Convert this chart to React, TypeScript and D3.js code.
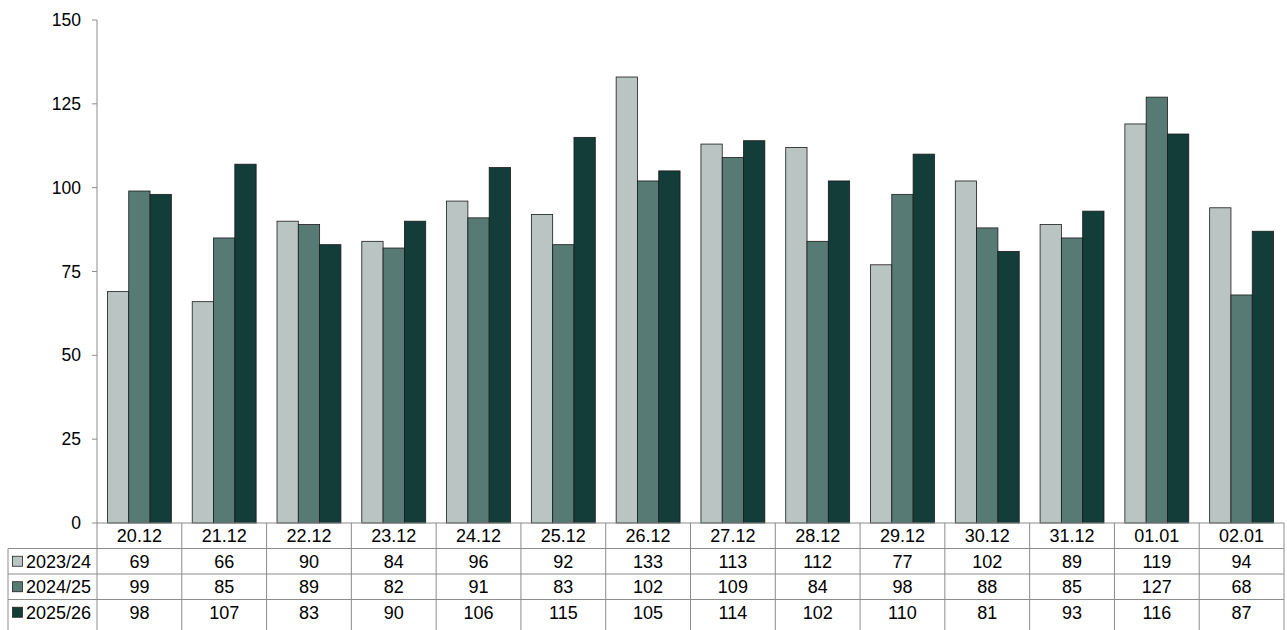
import React from "react";
import * as d3 from "d3";

const categories = ["20.12","21.12","22.12","23.12","24.12","25.12","26.12","27.12","28.12","29.12","30.12","31.12","01.01","02.01"];
const seriesNames = ["2023/24","2024/25","2025/26"];
const s2023 = [69,66,90,84,96,92,133,113,112,77,102,89,119,94];
const s2024 = [99,85,89,82,91,83,102,109,84,98,88,85,127,68];
const s2025 = [98,107,83,90,106,115,105,114,102,110,81,93,116,87];
const colors = ["#b9c4c3","#587a75","#133d38"];
const yTicks = [0,25,50,75,100,125,150];

export default function App() {
  const W = 1287, H = 630;
  const left = 97, right = 1284, top = 20, bottom = 523;
  const rowH = 25.5;
  const tableLeft = 8;
  const series = [s2023, s2024, s2025];
  const x = d3.scaleBand<string>().domain(categories).range([left, right]).paddingInner(0).paddingOuter(0);
  const xs = d3.scaleBand<number>().domain([0,1,2]).range([0, x.bandwidth()]).paddingInner(0).paddingOuter(0.49);
  const y = d3.scaleLinear().domain([0,150]).range([bottom, top]);
  const font = "'Liberation Sans', Arial, sans-serif";
  const grid = "#8c8c8c";
  const fs = 18;
  return (
    <svg width={W} height={H} style={{position:"absolute", left:0, top:0}} fontFamily={font}>
      {series.map((s, si) => s.map((v, i) => (
        <rect key={`${si}-${i}`} x={(x(categories[i]) as number) + (xs(si) as number)} y={y(v)} width={xs.bandwidth()} height={y(0)-y(v)} fill={colors[si]} stroke="#1a1a1a" strokeWidth={0.8} />
      )))}
      <line x1={left} x2={left} y1={top} y2={bottom} stroke={grid} strokeWidth={1}/>
      {yTicks.map(t => (
        <g key={t}>
          <line x1={left-5} x2={left} y1={y(t)} y2={y(t)} stroke={grid}/>
          <text x={left-16} y={y(t)} dy="0.35em" textAnchor="end" fontSize={17.5} fill="#000">{t}</text>
        </g>
      ))}
      {/* table */}
      <line x1={left} x2={right} y1={bottom} y2={bottom} stroke={grid}/>
      {[1,2,3].map(r => (
        <line key={r} x1={tableLeft} x2={right} y1={bottom + r*rowH} y2={bottom + r*rowH} stroke={grid}/>
      ))}
      <line x1={tableLeft} x2={tableLeft} y1={bottom+rowH} y2={H} stroke={grid}/>
      {categories.map((c) => (
        <line key={c} x1={x(c) as number} x2={x(c) as number} y1={bottom} y2={H} stroke={grid}/>
      ))}
      <line x1={right} x2={right} y1={bottom} y2={H} stroke={grid}/>
      {categories.map(c => (
        <text key={c} x={(x(c) as number) + x.bandwidth()/2} y={bottom + rowH/2} dy="0.36em" textAnchor="middle" fontSize={fs}>{c}</text>
      ))}
      {series.map((s, si) => (
        <g key={si}>
          <rect x={tableLeft+4.5} y={bottom + (si+1.5)*rowH - 5} width={10} height={10} fill={colors[si]} stroke="#222" strokeWidth={0.8}/>
          <text x={tableLeft+18} y={bottom + (si+1.5)*rowH} dy="0.36em" fontSize={fs}>{seriesNames[si]}</text>
          {s.map((v, i) => (
            <text key={i} x={(x(categories[i]) as number) + x.bandwidth()/2} y={bottom + (si+1.5)*rowH} dy="0.36em" textAnchor="middle" fontSize={fs}>{v}</text>
          ))}
        </g>
      ))}
    </svg>
  );
}
